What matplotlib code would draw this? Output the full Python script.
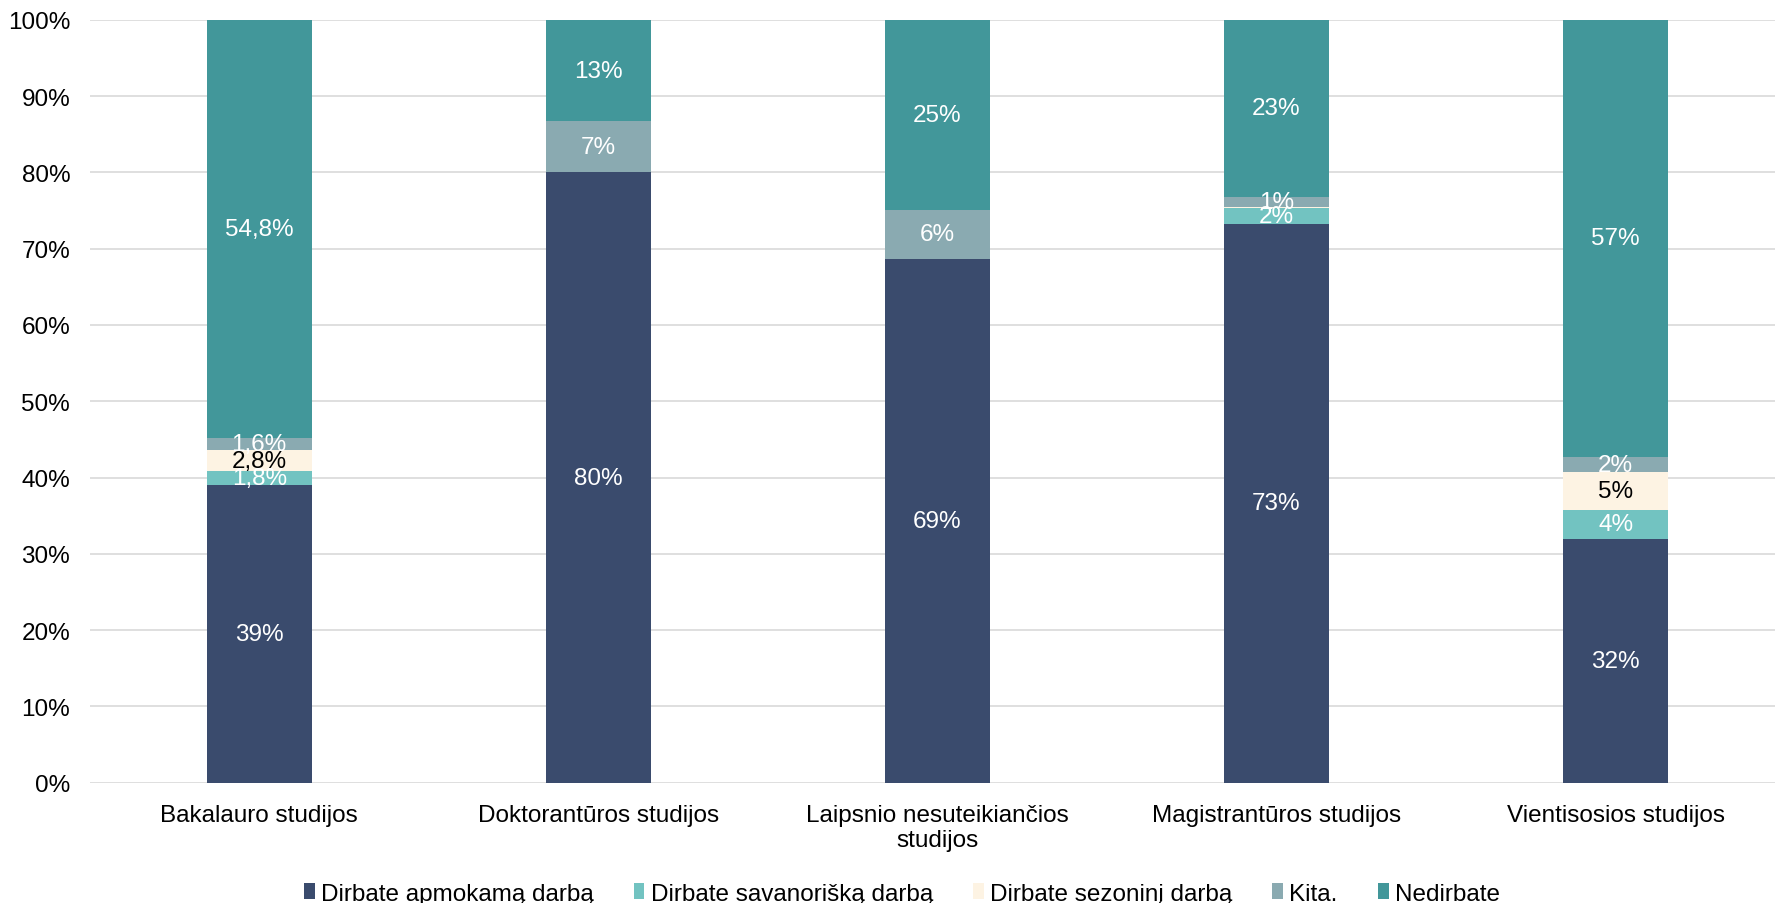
import matplotlib.pyplot as plt
import numpy as np

plt.rcParams['font.family'] = ['Liberation Sans', 'DejaVu Sans']

categories = ["Bakalauro studijos", "Doktorantūros studijos",
              "Laipsnio nesuteikiančios\nstudijos", "Magistrantūros studijos",
              "Vientisosios studijos"]
series_names = ["Dirbate apmokamą darbą", "Dirbate savanorišką darbą",
                "Dirbate sezoninį darbą", "Kita.", "Nedirbate"]

apmokamas = [39.0, 80.0, 68.7, 73.3, 32.0]
savanoriskas = [1.8, 0.0, 0.0, 2.0, 3.8]
sezoninis = [2.8, 0.0, 0.0, 0.2, 4.9]
kita = [1.6, 6.7, 6.4, 1.3, 2.0]
nedirba = [54.8, 13.3, 24.9, 23.2, 57.3]

labels_apmokamas = ["39%", "80%", "69%", "73%", "32%"]
labels_savanoriskas = ["1,8%", "", "", "2%", "4%"]
labels_sezoninis = ["2,8%", "", "", "", "5%"]
labels_kita = ["1,6%", "7%", "6%", "1%", "2%"]
labels_nedirba = ["54,8%", "13%", "25%", "23%", "57%"]

colors = ["#3A4B6D", "#72C3C1", "#FDF3E3", "#8AAAB1", "#42979A"]
text_colors = ["white", "white", "black", "white", "white"]

series = [apmokamas, savanoriskas, sezoninis, kita, nedirba]
series_labels = [labels_apmokamas, labels_savanoriskas, labels_sezoninis,
                 labels_kita, labels_nedirba]

fs = 17.5

fig = plt.figure(figsize=(17.75, 9.04), dpi=100)
ax = fig.add_axes([0.0505, 0.133, 0.9495, 0.844])

x = np.arange(len(categories))
bottom = np.zeros(len(categories))
for vals, labs, col, tcol, name in zip(series, series_labels, colors, text_colors, series_names):
    vals = np.array(vals)
    ax.bar(x, vals, width=0.31, bottom=bottom, color=col, label=name, zorder=3)
    for xi, b, v, lab in zip(x, bottom, vals, labs):
        if lab:
            ax.text(xi, b + v / 2, lab, ha='center', va='center', color=tcol,
                    fontsize=fs, zorder=4)
    bottom += vals

ax.set_ylim(0, 100)
ax.set_xlim(-0.5, 4.47)
ax.set_yticks(np.arange(0, 101, 10))
ax.set_yticklabels([f"{v}%" for v in range(0, 101, 10)], fontsize=fs)
ax.set_xticks(x)
ax.set_xticklabels(categories, fontsize=fs, linespacing=1.2)
ax.tick_params(length=0, pad=15)
ax.tick_params(axis='y', pad=14)
ax.grid(axis='y', color='#D9D9D9', linewidth=1.2, zorder=0)
for s in ax.spines.values():
    s.set_visible(False)

fig.legend(loc='lower center', ncol=5, frameon=False, fontsize=fs,
           bbox_to_anchor=(0.508, -0.026), handlelength=0.45, handleheight=0.6,
           handletextpad=0.25, columnspacing=1.65)

fig.savefig("out.png", dpi=100)
